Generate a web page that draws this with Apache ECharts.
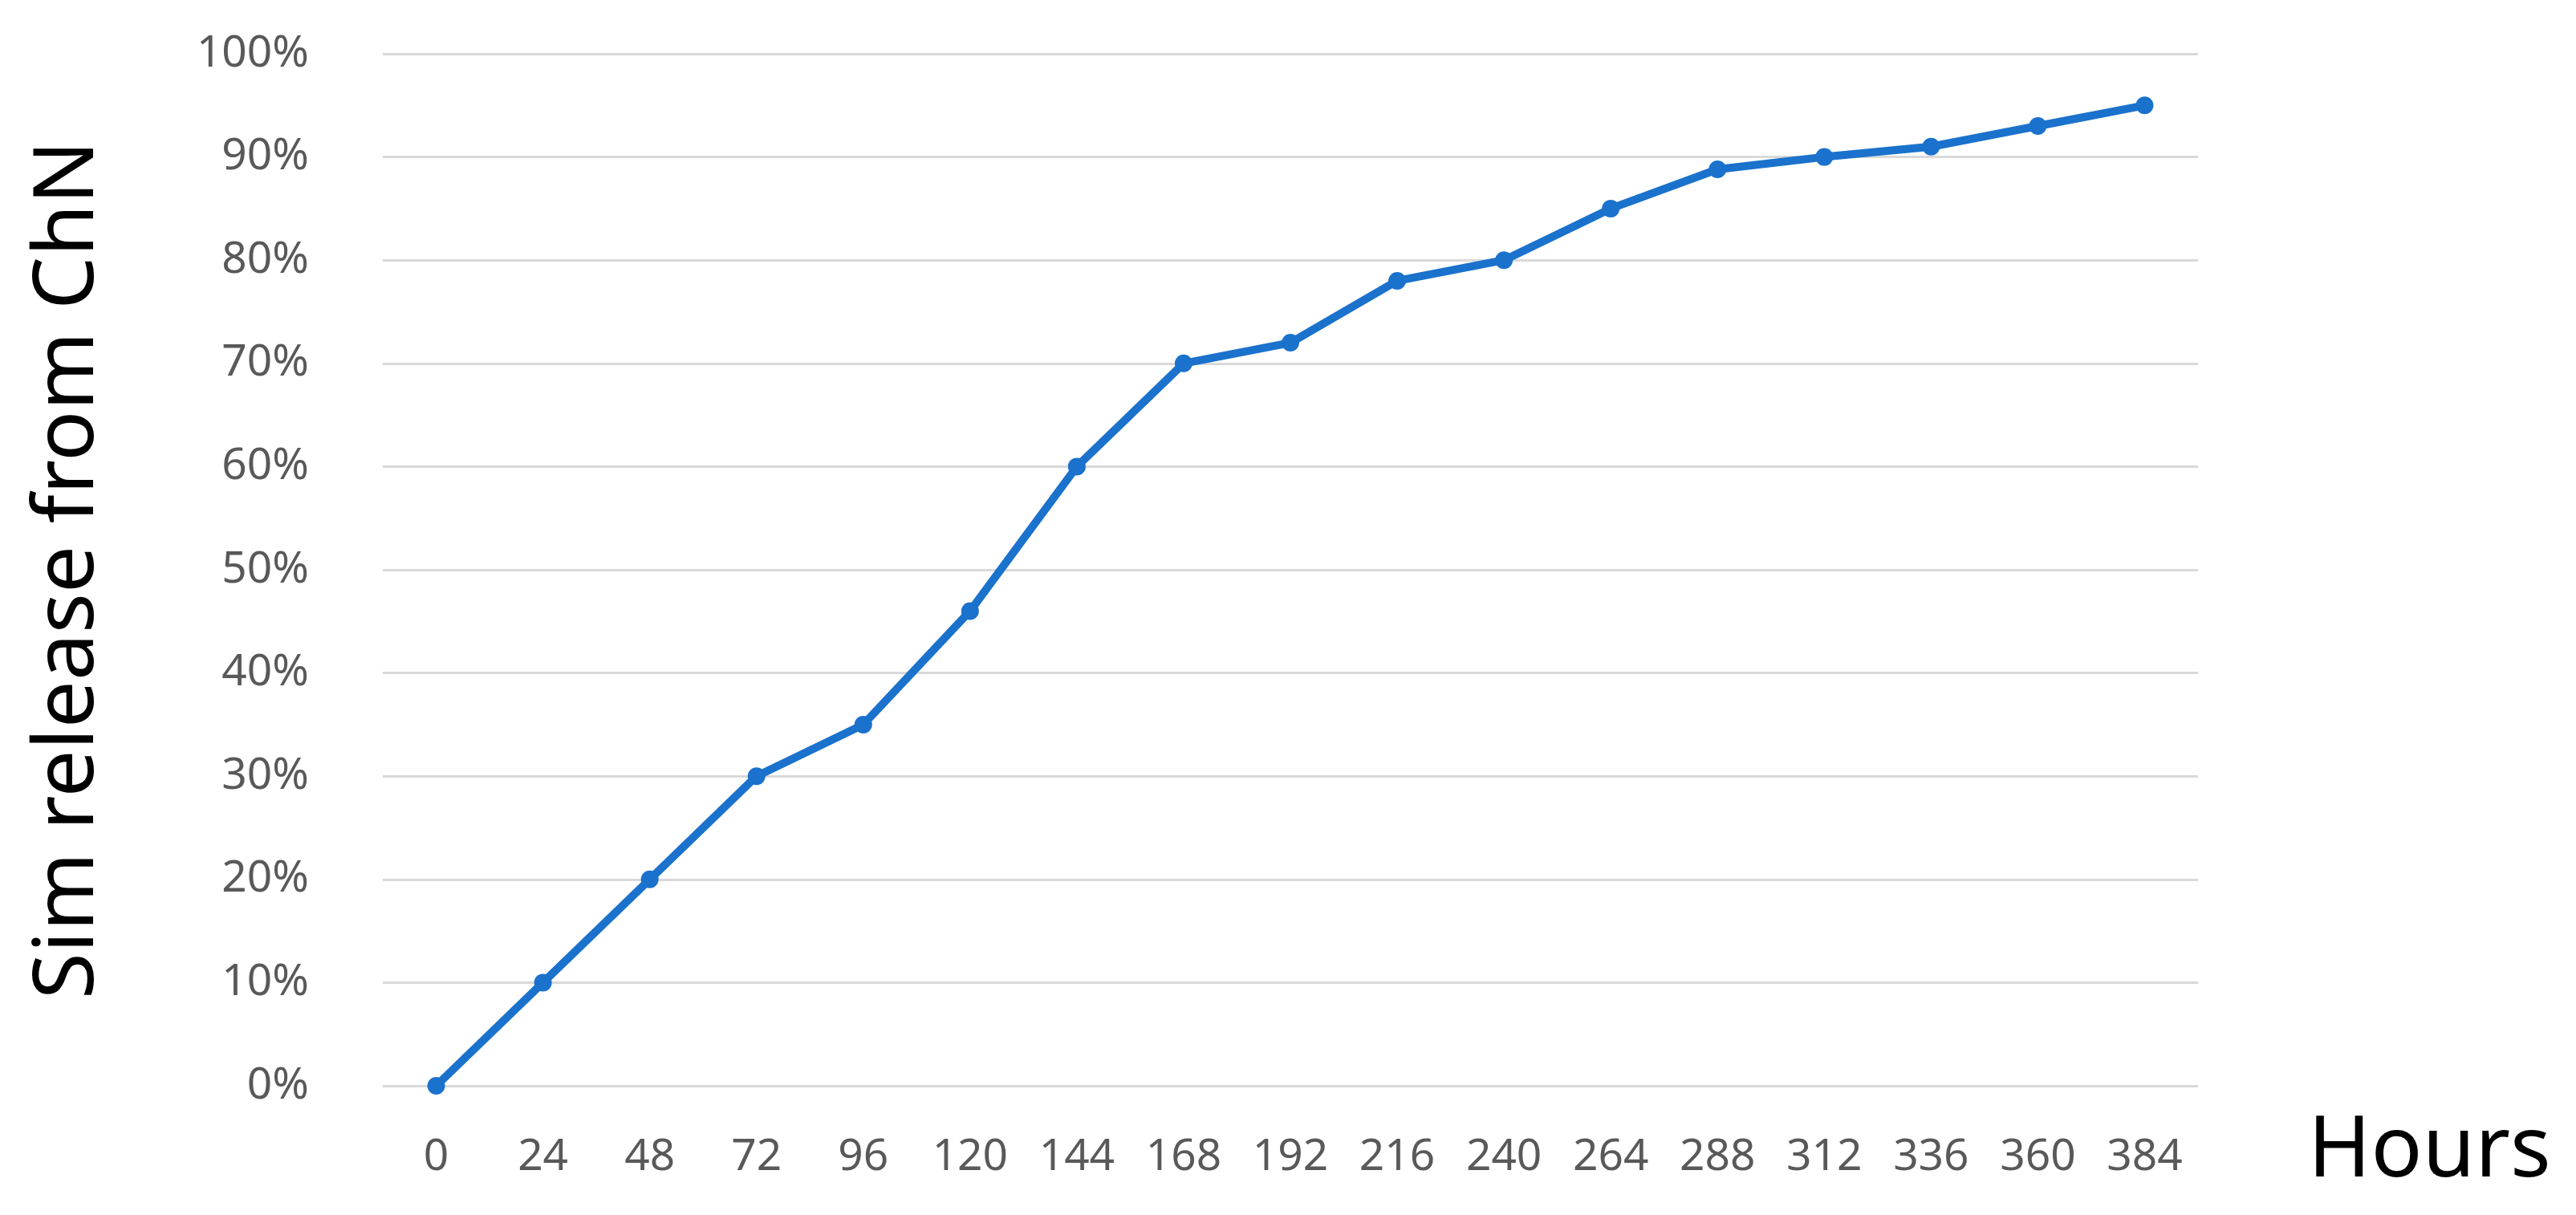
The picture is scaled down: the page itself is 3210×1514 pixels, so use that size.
<!DOCTYPE html>
<html>
<head>
<meta charset="utf-8">
<script src="https://cdn.jsdelivr.net/npm/echarts@6/dist/echarts.min.js"></script>
<style>
html,body{margin:0;padding:0;background:#fff;}
#chart{width:3210px;height:1514px;}
</style>
</head>
<body>
<div id="chart"></div>
<script>
const hours = ['0','24','48','72','96','120','144','168','192','216','240','264','288','312','336','360','384'];
const release = [0, 10, 20, 30, 35, 46, 60, 70, 72, 78, 80, 85, 88.8, 90, 91, 93, 95];
const xTitle = 'Hours';
const yTitle = 'Sim release from ChN';

const FONT = "'Noto Sans', sans-serif";
const chart = echarts.init(document.getElementById('chart'), null, {renderer:'canvas'});
chart.setOption({
  animation: false,
  backgroundColor: '#ffffff',
  grid: {left: 477, right: 471, top: 67, bottom: 161, containLabel: false, outerBoundsMode: 'none'},
  xAxis: {
    type: 'category',
    data: hours,
    boundaryGap: true,
    name: xTitle,
    nameLocation: 'end',
    nameGap: 137,
    nameTextStyle: {fontFamily: FONT, fontSize: 106, color: '#000', verticalAlign: 'top', padding: [30,0,0,0]},
    axisLine: {show: false},
    axisTick: {show: false},
    axisLabel: {fontFamily: FONT, fontSize: 55, color: '#595959', margin: 62, interval: 0}
  },
  yAxis: {
    type: 'value',
    min: 0, max: 100, interval: 10,
    name: yTitle,
    nameLocation: 'middle',
    nameRotate: 90,
    nameGap: 338,
    nameTextStyle: {fontFamily: FONT, fontSize: 105, color: '#000'},
    axisLine: {show: false},
    axisTick: {show: false},
    axisLabel: {fontFamily: FONT, fontSize: 55, color: '#595959', margin: 92, formatter: v => v + '%'},
    splitLine: {lineStyle: {color: '#d9d9d9', width: 3}}
  },
  series: [{
    type: 'line',
    data: release,
    symbol: 'circle',
    symbolSize: 22,
    lineStyle: {color: '#1a72cc', width: 10},
    itemStyle: {color: '#1a72cc'}
  }]
});
</script>
</body>
</html>
